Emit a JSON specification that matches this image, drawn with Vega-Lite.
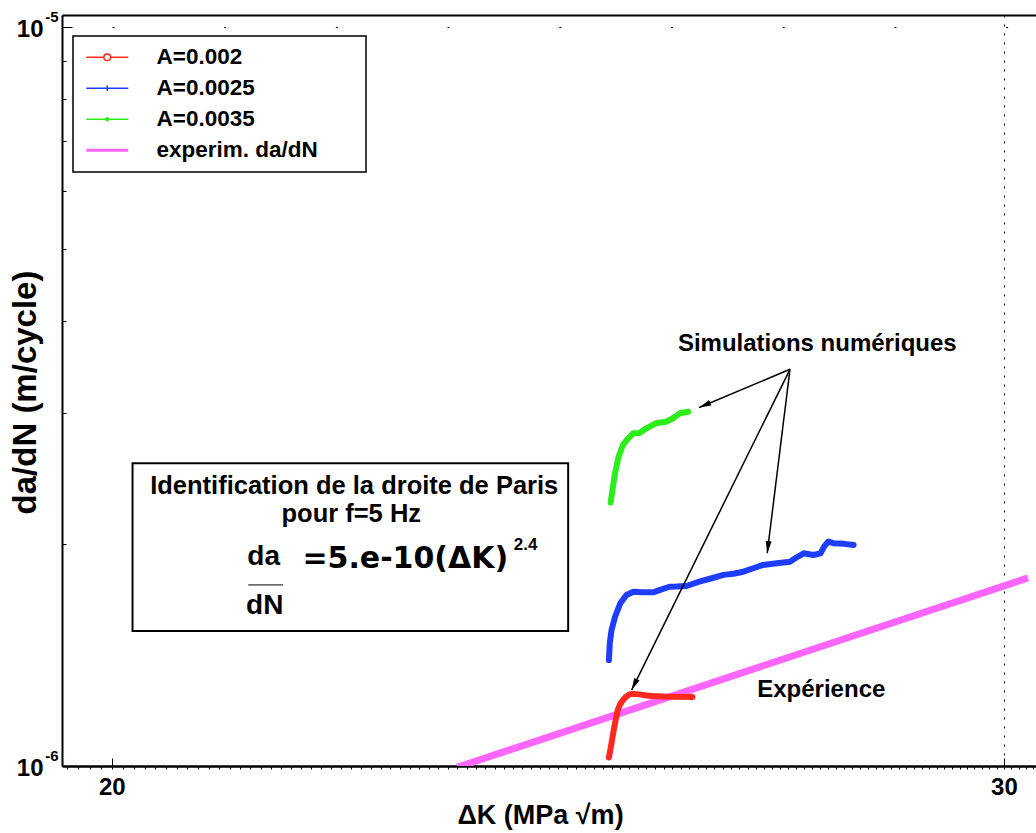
{
  "$schema": "https://vega.github.io/schema/vega-lite/v6.json",
  "width": 974,
  "height": 751,
  "autosize": "none",
  "padding": {"left": 62, "top": 15, "right": 0, "bottom": 67},
  "background": "white",
  "config": {
    "view": {"stroke": null},
    "font": "Liberation Sans",
    "axis": {"labelFont": "Liberation Sans", "titleFont": "Liberation Sans", "labelColor": "black", "titleColor": "black", "tickColor": "black", "domainColor": "black", "labelFlush": false, "labelOverlap": false},
    "text": {"font": "Liberation Sans", "fontWeight": "bold", "color": "black"}
  },
  "datasets": {
    "curves": [
      {"s": "A=0.002", "k": 25.07, "v": 1.027e-6},
      {"s": "A=0.002", "k": 25.085, "v": 1.05e-6},
      {"s": "A=0.002", "k": 25.10, "v": 1.074e-6},
      {"s": "A=0.002", "k": 25.12, "v": 1.11e-6},
      {"s": "A=0.002", "k": 25.14, "v": 1.143e-6},
      {"s": "A=0.002", "k": 25.17, "v": 1.19e-6},
      {"s": "A=0.002", "k": 25.20, "v": 1.213e-6},
      {"s": "A=0.002", "k": 25.23, "v": 1.228e-6},
      {"s": "A=0.002", "k": 25.27, "v": 1.242e-6},
      {"s": "A=0.002", "k": 25.31, "v": 1.251e-6},
      {"s": "A=0.002", "k": 25.36, "v": 1.252e-6},
      {"s": "A=0.002", "k": 25.42, "v": 1.250e-6},
      {"s": "A=0.002", "k": 25.50, "v": 1.246e-6},
      {"s": "A=0.002", "k": 25.57, "v": 1.244e-6},
      {"s": "A=0.002", "k": 25.70, "v": 1.242e-6},
      {"s": "A=0.002", "k": 25.85, "v": 1.241e-6},
      {"s": "A=0.002", "k": 26.04, "v": 1.240e-6},
      {"s": "A=0.0025", "k": 25.07, "v": 1.391e-6},
      {"s": "A=0.0025", "k": 25.08, "v": 1.466e-6},
      {"s": "A=0.0025", "k": 25.10, "v": 1.528e-6},
      {"s": "A=0.0025", "k": 25.14, "v": 1.592e-6},
      {"s": "A=0.0025", "k": 25.20, "v": 1.660e-6},
      {"s": "A=0.0025", "k": 25.27, "v": 1.704e-6},
      {"s": "A=0.0025", "k": 25.35, "v": 1.721e-6},
      {"s": "A=0.0025", "k": 25.45, "v": 1.718e-6},
      {"s": "A=0.0025", "k": 25.58, "v": 1.718e-6},
      {"s": "A=0.0025", "k": 25.66, "v": 1.731e-6},
      {"s": "A=0.0025", "k": 25.77, "v": 1.748e-6},
      {"s": "A=0.0025", "k": 25.85, "v": 1.749e-6},
      {"s": "A=0.0025", "k": 25.97, "v": 1.752e-6},
      {"s": "A=0.0025", "k": 26.12, "v": 1.776e-6},
      {"s": "A=0.0025", "k": 26.27, "v": 1.795e-6},
      {"s": "A=0.0025", "k": 26.41, "v": 1.814e-6},
      {"s": "A=0.0025", "k": 26.53, "v": 1.820e-6},
      {"s": "A=0.0025", "k": 26.65, "v": 1.832e-6},
      {"s": "A=0.0025", "k": 26.77, "v": 1.852e-6},
      {"s": "A=0.0025", "k": 26.89, "v": 1.871e-6},
      {"s": "A=0.0025", "k": 27.06, "v": 1.881e-6},
      {"s": "A=0.0025", "k": 27.22, "v": 1.890e-6},
      {"s": "A=0.0025", "k": 27.30, "v": 1.915e-6},
      {"s": "A=0.0025", "k": 27.39, "v": 1.940e-6},
      {"s": "A=0.0025", "k": 27.51, "v": 1.930e-6},
      {"s": "A=0.0025", "k": 27.60, "v": 1.940e-6},
      {"s": "A=0.0025", "k": 27.65, "v": 1.985e-6},
      {"s": "A=0.0025", "k": 27.70, "v": 2.012e-6},
      {"s": "A=0.0025", "k": 27.76, "v": 2.002e-6},
      {"s": "A=0.0025", "k": 27.90, "v": 1.998e-6},
      {"s": "A=0.0025", "k": 28.02, "v": 1.991e-6},
      {"s": "A=0.0035", "k": 25.09, "v": 2.272e-6},
      {"s": "A=0.0035", "k": 25.11, "v": 2.363e-6},
      {"s": "A=0.0035", "k": 25.14, "v": 2.489e-6},
      {"s": "A=0.0035", "k": 25.18, "v": 2.621e-6},
      {"s": "A=0.0035", "k": 25.23, "v": 2.719e-6},
      {"s": "A=0.0035", "k": 25.29, "v": 2.776e-6},
      {"s": "A=0.0035", "k": 25.35, "v": 2.820e-6},
      {"s": "A=0.0035", "k": 25.42, "v": 2.822e-6},
      {"s": "A=0.0035", "k": 25.50, "v": 2.864e-6},
      {"s": "A=0.0035", "k": 25.61, "v": 2.909e-6},
      {"s": "A=0.0035", "k": 25.73, "v": 2.923e-6},
      {"s": "A=0.0035", "k": 25.81, "v": 2.955e-6},
      {"s": "A=0.0035", "k": 25.89, "v": 3.001e-6},
      {"s": "A=0.0035", "k": 25.99, "v": 3.016e-6},
      {"s": "experim. da/dN", "k": 23.40, "v": 0.996e-6},
      {"s": "experim. da/dN", "k": 30.33, "v": 1.797e-6}
    ],
    "notes": [
      {"id": "sim", "t": "Simulations numériques", "k": 27.56, "v": 3.725e-6},
      {"id": "exp", "t": "Expérience", "k": 27.61, "v": 1.267e-6},
      {"id": "h1", "t": "Identification de la droite de Paris", "k": 22.33, "v": 2.393e-6},
      {"id": "h2", "t": "pour f=5 Hz", "k": 22.30, "v": 2.196e-6},
      {"id": "num", "t": "da", "k": 21.43, "v": 1.9185e-6},
      {"id": "den", "t": "dN", "k": 21.44, "v": 1.6464e-6},
      {"id": "rhs", "t": "=5.e-10(ΔK)", "k": 21.81, "v": 1.9066e-6},
      {"id": "pow", "t": "2.4", "k": 24.01, "v": 1.9908e-6}
    ],
    "box": [{"k1": 20.19, "k2": 24.61, "v1": 1.523e-6, "v2": 2.568e-6}],
    "frac": [{"k1": 21.28, "k2": 21.62, "v": 1.758e-6}],
    "arrows": [
      {"t": "g", "k0": 27.22, "v0": 3.442e-6, "k1": 26.12, "v1": 3.056e-6},
      {"t": "b", "k0": 27.22, "v0": 3.442e-6, "k1": 26.94, "v1": 1.941e-6},
      {"t": "r", "k0": 27.22, "v0": 3.442e-6, "k1": 25.33, "v1": 1.267e-6}
    ]
  },
  "resolve": {"axis": {"x": "independent", "y": "independent"}},
  "layer": [
    {
      "data": {"name": "curves"},
      "transform": [{"filter": "datum.s == 'experim. da/dN'"}],
      "mark": {"type": "line", "strokeWidth": 7, "clip": true, "strokeCap": "butt"},
      "encoding": {
        "x": {"field": "k", "type": "quantitative", "scale": {"type": "log", "domain": [19.553, 30.44], "nice": false},
          "axis": {"orient": "bottom", "values": [20, 30], "tickSize": -8, "tickWidth": 1, "domainWidth": 2.5, "labelFontSize": 24, "labelFontWeight": "bold", "labelPadding": 17, "labelBaseline": "top", "labelAlign": "center", "format": "d",
            "grid": true, "gridColor": "black", "gridWidth": 1, "gridDash": [2, 7], "gridOpacity": {"condition": {"test": "datum.value > 25", "value": 1}, "value": 0},
            "title": "ΔK (MPa √m)", "titleFont": "Liberation Sans", "titleFontSize": 27, "titleFontWeight": "bold", "titleX": 478, "titleY": 49, "titleAlign": "center", "titleBaseline": "middle"}},
        "y": {"field": "v", "type": "quantitative", "scale": {"type": "log", "domain": [1e-6, 1.0381e-5], "nice": false},
          "axis": {"orient": "left", "values": [1e-6, 1e-5], "tickSize": -10, "tickWidth": 1, "domainWidth": 2, "labelExpr": "'10'", "labelFontSize": 24, "labelFontWeight": "bold", "labelPadding": 29, "labelOffset": 2, "labelBaseline": "middle", "labelAlign": "right",
            "grid": true, "gridColor": "black", "gridWidth": 1, "gridDash": [2, 109.7], "gridDashOffset": 61.7, "gridOpacity": {"condition": {"test": "datum.value > 5e-6", "value": 1}, "value": 0},
            "title": "da/dN (m/cycle)", "titleFontSize": 33, "titleFontWeight": "bold", "titleX": -37, "titleY": 377, "titleAngle": 270, "titleAlign": "center", "titleBaseline": "middle"}},
        "color": {"field": "s", "type": "nominal",
          "scale": {"domain": ["A=0.002", "A=0.0025", "A=0.0035", "experim. da/dN"], "range": ["#ff2a1f", "#1e3dff", "#2bee1a", "#ff66ff"]},
          "legend": {"title": null, "orient": "none", "legendX": 11, "legendY": 21, "fillColor": "white", "strokeColor": "black", "padding": 10,
            "symbolSize": 1764, "symbolOffset": 13, "labelOffset": 38, "rowPadding": 8, "labelLimit": 500,
            "labelFont": "Liberation Sans", "labelFontSize": 22.5, "labelFontWeight": "bold", "labelColor": "black",
            "labelExpr": "datum.label + '\u00a0\u00a0\u00a0\u00a0\u00a0\u00a0\u200b'",
            "encode": {
              "legend": {"update": {"stroke": {"value": "black"}, "strokeWidth": {"value": 1.5}}},
              "symbols": {"update": {
                "shape": {"signal": "datum.value == 'A=0.002' ? 'M-1,0H-0.16A0.16,0.16,0,1,1,0.16,0A0.16,0.16,0,1,1,-0.16,0M0.16,0H1' : datum.value == 'A=0.0025' ? 'M-1,0H1M0,-0.13V0.13' : datum.value == 'A=0.0035' ? 'M-1,0H1M-0.07,0A0.07,0.07,0,1,1,0.07,0A0.07,0.07,0,1,1,-0.07,0' : 'M-1,0H1'"},
                "strokeWidth": {"signal": "datum.value == 'experim. da/dN' ? 3 : 1.5"},
                "fill": {"value": "transparent"},
                "opacity": {"value": 1}
              }}
            }}}
      }
    },
    {
      "data": {"name": "curves"},
      "transform": [{"filter": "datum.s != 'experim. da/dN'"}],
      "mark": {"type": "line", "strokeWidth": 6, "strokeCap": "round", "strokeJoin": "round"},
      "encoding": {
        "x": {"field": "k", "type": "quantitative", "scale": {"type": "log", "domain": [19.553, 30.44], "nice": false},
          "axis": {"orient": "bottom", "values": [19.6,19.7,19.8,19.9,20,20.1,20.2,20.3,20.4,20.5,20.6,20.7,20.8,20.9,21,21.1,21.2,21.3,21.4,21.5,21.6,21.7,21.8,21.9,22,22.1,22.2,22.3,22.4,22.5,22.6,22.7,22.8,22.9,23,23.1,23.2,23.3,23.4,23.5,23.6,23.7,23.8,23.9,24,24.1,24.2,24.3,24.4,24.5,24.6,24.7,24.8,24.9,25,25.1,25.2,25.3,25.4,25.5,25.6,25.7,25.8,25.9,26,26.1,26.2,26.3,26.4,26.5,26.6,26.7,26.8,26.9,27,27.1,27.2,27.3,27.4,27.5,27.6,27.7,27.8,27.9,28,28.1,28.2,28.3,28.4,28.5,28.6,28.7,28.8,28.9,29,29.1,29.2,29.3,29.4,29.5,29.6,29.7,29.8,29.9,30,30.1,30.2,30.3,30.4],
            "tickSize": 3, "tickWidth": 1, "domain": false, "labels": false, "grid": false, "title": null}},
        "y": {"field": "v", "type": "quantitative", "scale": {"type": "log", "domain": [1e-6, 1.0381e-5], "nice": false},
          "axis": {"orient": "left", "values": [1e-6, 1e-5], "ticks": false, "domain": false, "grid": false, "labelExpr": "datum.value < 3e-6 ? '-6' : '-5'", "labelFontSize": 15, "labelFontWeight": "bold", "labelPadding": 4, "labelOffset": -11, "labelBaseline": "middle", "labelAlign": "right", "title": null}},
        "color": {"field": "s", "type": "nominal",
          "scale": {"domain": ["A=0.002", "A=0.0025", "A=0.0035", "experim. da/dN"], "range": ["#ff2a1f", "#1e3dff", "#2bee1a", "#ff66ff"]}}
      }
    },
    {
      "data": {"name": "box"},
      "mark": {"type": "rect", "fill": "white", "stroke": "black", "strokeWidth": 2},
      "encoding": {
        "x": {"field": "k1", "type": "quantitative", "scale": {"type": "log", "domain": [19.553, 30.44], "nice": false}, "axis": null},
        "x2": {"field": "k2"},
        "y": {"field": "v1", "type": "quantitative", "scale": {"type": "log", "domain": [1e-6, 1.0381e-5], "nice": false}, "axis": null},
        "y2": {"field": "v2"}
      }
    },
    {
      "data": {"name": "frac"},
      "mark": {"type": "rule", "stroke": "black", "strokeWidth": 1},
      "encoding": {
        "x": {"field": "k1", "type": "quantitative", "scale": {"type": "log", "domain": [19.553, 30.44], "nice": false}, "axis": null},
        "x2": {"field": "k2"},
        "y": {"field": "v", "type": "quantitative", "scale": {"type": "log", "domain": [1e-6, 1.0381e-5], "nice": false}, "axis": null}
      }
    },
    {
      "data": {"name": "notes"},
      "transform": [{"filter": {"field": "id", "oneOf": ["sim", "exp"]}}],
      "mark": {"type": "text", "fontSize": 24, "fontWeight": "bold", "align": "center", "baseline": "middle"},
      "encoding": {
        "x": {"field": "k", "type": "quantitative", "scale": {"type": "log", "domain": [19.553, 30.44], "nice": false}, "axis": null},
        "y": {"field": "v", "type": "quantitative", "scale": {"type": "log", "domain": [1e-6, 1.0381e-5], "nice": false}, "axis": null},
        "text": {"field": "t"}
      }
    },
    {
      "data": {"name": "notes"},
      "transform": [{"filter": {"field": "id", "oneOf": ["h1", "h2"]}}],
      "mark": {"type": "text", "fontSize": 25.5, "fontWeight": "bold", "align": "center", "baseline": "middle"},
      "encoding": {
        "x": {"field": "k", "type": "quantitative", "scale": {"type": "log", "domain": [19.553, 30.44], "nice": false}, "axis": null},
        "y": {"field": "v", "type": "quantitative", "scale": {"type": "log", "domain": [1e-6, 1.0381e-5], "nice": false}, "axis": null},
        "text": {"field": "t"}
      }
    },
    {
      "data": {"name": "notes"},
      "transform": [{"filter": {"field": "id", "oneOf": ["num", "den"]}}],
      "mark": {"type": "text", "font": "Liberation Sans", "fontSize": 28, "fontWeight": "bold", "align": "center", "baseline": "middle"},
      "encoding": {
        "x": {"field": "k", "type": "quantitative", "scale": {"type": "log", "domain": [19.553, 30.44], "nice": false}, "axis": null},
        "y": {"field": "v", "type": "quantitative", "scale": {"type": "log", "domain": [1e-6, 1.0381e-5], "nice": false}, "axis": null},
        "text": {"field": "t"}
      }
    },
    {
      "data": {"name": "notes"},
      "transform": [{"filter": {"field": "id", "oneOf": ["rhs"]}}],
      "mark": {"type": "text", "font": "DejaVu Sans", "fontSize": 30, "fontWeight": "bold", "align": "left", "baseline": "middle"},
      "encoding": {
        "x": {"field": "k", "type": "quantitative", "scale": {"type": "log", "domain": [19.553, 30.44], "nice": false}, "axis": null},
        "y": {"field": "v", "type": "quantitative", "scale": {"type": "log", "domain": [1e-6, 1.0381e-5], "nice": false}, "axis": null},
        "text": {"field": "t"}
      }
    },
    {
      "data": {"name": "notes"},
      "transform": [{"filter": {"field": "id", "oneOf": ["pow"]}}],
      "mark": {"type": "text", "font": "Liberation Sans", "fontSize": 17, "fontWeight": "bold", "align": "left", "baseline": "middle"},
      "encoding": {
        "x": {"field": "k", "type": "quantitative", "scale": {"type": "log", "domain": [19.553, 30.44], "nice": false}, "axis": null},
        "y": {"field": "v", "type": "quantitative", "scale": {"type": "log", "domain": [1e-6, 1.0381e-5], "nice": false}, "axis": null},
        "text": {"field": "t"}
      }
    },
    {
      "data": {"name": "arrows"},
      "mark": {"type": "rule", "stroke": "black", "strokeWidth": 1.5},
      "encoding": {
        "x": {"field": "k0", "type": "quantitative", "scale": {"type": "log", "domain": [19.553, 30.44], "nice": false},
          "axis": {"orient": "top", "domain": true, "domainWidth": 2, "ticks": false, "labels": false, "grid": false, "title": null}},
        "y": {"field": "v0", "type": "quantitative", "scale": {"type": "log", "domain": [1e-6, 1.0381e-5], "nice": false},
          "axis": {"orient": "left", "values": [2e-6, 3e-6, 4e-6, 5e-6, 6e-6, 7e-6, 8e-6, 9e-6], "tickSize": -4, "tickWidth": 1, "domain": false, "labels": false, "grid": false, "title": null}},
        "x2": {"field": "k1"},
        "y2": {"field": "v1"}
      }
    },
    {
      "data": {"name": "arrows"},
      "transform": [{"filter": "datum.t == 'g'"}],
      "mark": {"type": "point", "shape": "M0,0L0.3,1.2L-0.3,1.2Z", "filled": true, "color": "black", "opacity": 1, "size": 400, "angle": 247},
      "encoding": {
        "x": {"field": "k1", "type": "quantitative", "scale": {"type": "log", "domain": [19.553, 30.44], "nice": false}, "axis": null},
        "y": {"field": "v1", "type": "quantitative", "scale": {"type": "log", "domain": [1e-6, 1.0381e-5], "nice": false}, "axis": null}
      }
    },
    {
      "data": {"name": "arrows"},
      "transform": [{"filter": "datum.t == 'b'"}],
      "mark": {"type": "point", "shape": "M0,0L0.3,1.2L-0.3,1.2Z", "filled": true, "color": "black", "opacity": 1, "size": 400, "angle": 187},
      "encoding": {
        "x": {"field": "k1", "type": "quantitative", "scale": {"type": "log", "domain": [19.553, 30.44], "nice": false}, "axis": null},
        "y": {"field": "v1", "type": "quantitative", "scale": {"type": "log", "domain": [1e-6, 1.0381e-5], "nice": false}, "axis": null}
      }
    },
    {
      "data": {"name": "arrows"},
      "transform": [{"filter": "datum.t == 'r'"}],
      "mark": {"type": "point", "shape": "M0,0L0.3,1.2L-0.3,1.2Z", "filled": true, "color": "black", "opacity": 1, "size": 400, "angle": 206},
      "encoding": {
        "x": {"field": "k1", "type": "quantitative", "scale": {"type": "log", "domain": [19.553, 30.44], "nice": false}, "axis": null},
        "y": {"field": "v1", "type": "quantitative", "scale": {"type": "log", "domain": [1e-6, 1.0381e-5], "nice": false}, "axis": null}
      }
    }
  ]
}
